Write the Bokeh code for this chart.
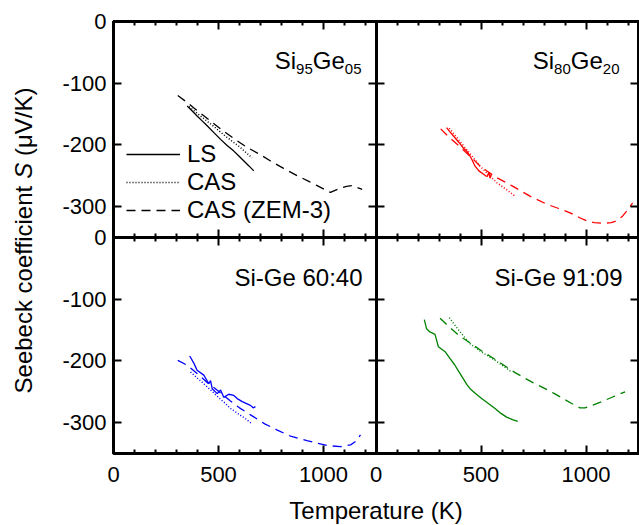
import math
from bokeh.plotting import figure
from bokeh.layouts import row
from bokeh.models import Range1d, LinearAxis, FixedTicker, Label, Legend, LegendItem
from bokeh.embed import file_html
from bokeh.resources import INLINE

FONT = "Liberation Sans"

# ---------------- data (Temperature K, Seebeck uV/K) ----------------
# Si95Ge05 (black)
si95_ls_T = [351, 375, 398, 422, 446, 478, 510, 541, 573, 597, 621, 645, 668]
si95_ls_S = [-137, -145, -153, -161, -169, -180, -191, -201, -210, -218, -226, -234, -242]
si95_cas_T = [360, 410, 470, 530, 600, 660]
si95_cas_S = [-138, -152, -168, -185, -203, -221]
si95_zem_T = [306, 350, 390, 450, 510, 570, 636, 700, 748, 810, 875, 930, 970, 1033, 1081, 1110, 1137, 1184]
si95_zem_S = [-120, -131, -142, -158, -174, -189, -204, -216, -226, -238, -250, -259, -266, -277, -270, -267, -266, -272]

# Si80Ge20 (red)
si80_ls_T = [336, 350, 370, 395, 416, 432, 448, 460, 471, 490, 511, 522, 530, 538, 543, 550]
si80_ls_S = [-172, -178, -186, -196, -205, -210, -218, -226, -234, -242, -247, -250, -251, -244, -254, -247]
si80_cas_T = [349, 380, 416, 455, 495, 535, 575, 620, 662]
si80_cas_S = [-173, -186, -201, -217, -234, -248, -261, -272, -283]
si80_zem_T = [308, 350, 400, 450, 495, 535, 575, 646, 733, 813, 870, 924, 970, 1003, 1040, 1082, 1120, 1146, 1175, 1194, 1222]
si80_zem_S = [-174, -188, -203, -219, -234, -244, -253, -266, -283, -296, -303, -310, -318, -323, -326, -327, -326, -323, -315, -307, -294]

# Si-Ge 60:40 (blue)
si60_ls_T = [363, 383, 398, 430, 454, 462, 470, 494, 510, 525, 549, 573, 589, 613, 652, 665, 676]
si60_ls_S = [-192, -204, -215, -223, -237, -232, -245, -253, -247, -259, -254, -256, -261, -266, -272, -276, -274]
si60_cas_T = [367, 400, 430, 462, 500, 530, 557, 600, 630, 660]
si60_cas_S = [-218, -228, -237, -247, -259, -268, -277, -287, -294, -302]
si60_zem_T = [306, 351, 400, 450, 500, 557, 600, 660, 720, 780, 843, 921, 1017, 1081, 1129, 1155, 1176]
si60_zem_S = [-199, -207, -221, -236, -249, -265, -276, -289, -302, -312, -322, -329, -337, -339, -336, -330, -320]

# Si-Ge 91:09 (green)
si91_ls_T = [230, 241, 257, 281, 297, 313, 329, 352, 376, 396, 416, 432, 448, 475, 503, 535, 567, 595, 622, 650, 675]
si91_ls_S = [-133, -148, -153, -157, -177, -181, -185, -196, -207, -218, -229, -238, -245, -253, -261, -269, -277, -285, -291, -295, -298]
si91_cas_T = [349, 380, 408, 448, 500, 567, 610, 646]
si91_cas_S = [-130, -144, -156, -172, -185, -199, -209, -218]
si91_zem_T = [305, 350, 392, 440, 500, 551, 600, 662, 741, 800, 850, 932, 971, 995, 1030, 1075, 1130, 1186]
si91_zem_S = [-131, -145, -158, -169, -183, -194, -205, -219, -234, -244, -253, -269, -276, -276, -272, -266, -258, -250]

# axes
T_MAX = 1250
S_MIN = -350
X_TICKS = [0, 500, 1000]
X_MINOR = [100, 200, 300, 400, 600, 700, 800, 900, 1100, 1200]
Y_TICKS = [0, -100, -200, -300]
LEGEND_LABELS = ["LS", "CAS", "CAS (ZEM-3)"]

# ---------------- layout constants ----------------
TITLE_W = 45
TOTAL_H = 525
FW, FH = 525, 432
BORDER_TOP = 21
PAGE_LEFT = 113.0
PAGE_TOP = float(BORDER_TOP)

p = figure(frame_width=FW, frame_height=FH, min_border_left=int(PAGE_LEFT) - TITLE_W,
           min_border_right=1, min_border_top=BORDER_TOP,
           min_border_bottom=TOTAL_H - BORDER_TOP - FH,
           x_range=Range1d(0, 2 * T_MAX), y_range=Range1d(2 * S_MIN, 0),
           x_axis_location=None, y_axis_location=None,
           output_backend="svg", toolbar_location=None)
p.frame_align = False
p.extra_x_ranges = {"right": Range1d(-T_MAX, T_MAX)}
p.extra_y_ranges = {"bottom": Range1d(S_MIN, -S_MIN)}
p.xgrid.visible = False
p.ygrid.visible = False
p.outline_line_color = "black"
p.outline_line_width = 3
p.background_fill_color = "white"
p.border_fill_color = "white"

xt_major = X_TICKS + [t + T_MAX for t in X_TICKS]
xt_minor = X_MINOR + [t + T_MAX for t in X_MINOR] + [T_MAX]
yt_major = Y_TICKS + [t + S_MIN for t in Y_TICKS]
x_over = {}
for t in X_TICKS:
    x_over[t] = str(t)
    x_over[t + T_MAX] = str(t)
y_over = {}
for t in Y_TICKS:
    y_over[t] = str(t)
    y_over[t + S_MIN] = str(t)


def style_axis(ax, tin, tout, labels):
    ax.axis_line_width = 3
    ax.axis_line_color = "black"
    ax.major_tick_in = tin
    ax.major_tick_out = tout
    ax.minor_tick_in = tin // 2
    ax.minor_tick_out = tout // 2
    ax.major_tick_line_width = 2
    ax.minor_tick_line_width = 2
    ax.major_tick_line_color = "black"
    ax.minor_tick_line_color = "black"
    if labels:
        ax.major_label_text_font = FONT
        ax.major_label_text_font_size = "22px"
        ax.major_label_text_color = "black"
    else:
        ax.major_label_text_color = None


bx = LinearAxis(ticker=FixedTicker(ticks=xt_major, minor_ticks=xt_minor), axis_label="Temperature (K)")
style_axis(bx, 8, 0, True)
bx.major_label_overrides = x_over
bx.major_label_standoff = 13
bx.axis_label_text_font = FONT
bx.axis_label_text_font_size = "24px"
bx.axis_label_text_font_style = "normal"
bx.axis_label_text_color = "black"
bx.axis_label_standoff = 12
p.add_layout(bx, "below")

ax_top = LinearAxis(ticker=FixedTicker(ticks=xt_major, minor_ticks=xt_minor))
style_axis(ax_top, 8, 0, False)
p.add_layout(ax_top, "above")

ly = LinearAxis(ticker=FixedTicker(ticks=yt_major, minor_ticks=[]))
style_axis(ly, 8, 0, True)
ly.major_label_overrides = y_over
ly.major_label_standoff = 7
p.add_layout(ly, "left")

ry = LinearAxis(ticker=FixedTicker(ticks=yt_major, minor_ticks=[]))
style_axis(ry, 8, 0, False)
p.add_layout(ry, "right")

# internal dividers (axes fixed inside the frame)
hdiv = LinearAxis(ticker=FixedTicker(ticks=xt_major, minor_ticks=xt_minor), fixed_location=S_MIN)
style_axis(hdiv, 8, 8, False)
p.add_layout(hdiv, "below")
vdiv = LinearAxis(ticker=FixedTicker(ticks=yt_major, minor_ticks=[]), fixed_location=T_MAX)
style_axis(vdiv, 8, 8, False)
p.add_layout(vdiv, "left")

# ---------------- lines ----------------
SOLID, DOT, DASH = "solid", "1 2", "9 6"


def draw(T, S, color, dash, xr, yr, w=1.3):
    return p.line(T, S, line_color=color, line_dash=dash, line_width=w,
                  x_range_name=xr, y_range_name=yr)


r_ls = draw(si95_ls_T, si95_ls_S, "black", SOLID, "default", "default")
r_cas = draw(si95_cas_T, si95_cas_S, "black", DOT, "default", "default", 1.5)
r_zem = draw(si95_zem_T, si95_zem_S, "black", DASH, "default", "default")

draw(si80_ls_T, si80_ls_S, "#ff0000", SOLID, "right", "default")
draw(si80_cas_T, si80_cas_S, "#ff0000", DOT, "right", "default", 1.5)
draw(si80_zem_T, si80_zem_S, "#ff0000", DASH, "right", "default")

draw(si60_ls_T, si60_ls_S, "#0000ff", SOLID, "default", "bottom")
draw(si60_cas_T, si60_cas_S, "#0000ff", DOT, "default", "bottom", 1.5)
draw(si60_zem_T, si60_zem_S, "#0000ff", DASH, "default", "bottom")

draw(si91_ls_T, si91_ls_S, "#008000", SOLID, "right", "bottom")
draw(si91_cas_T, si91_cas_S, "#008000", DOT, "right", "bottom", 1.5)
draw(si91_zem_T, si91_zem_S, "#008000", DASH, "right", "bottom")

legend = Legend(items=[LegendItem(label=LEGEND_LABELS[0], renderers=[r_ls]),
                       LegendItem(label=LEGEND_LABELS[1], renderers=[r_cas]),
                       LegendItem(label=LEGEND_LABELS[2], renderers=[r_zem])],
                location=(13, 229))
legend.glyph_width = 54
legend.glyph_height = 28
legend.label_height = 28
legend.label_standoff = 7
legend.spacing = 0
legend.padding = 0
legend.margin = 0
legend.border_line_color = None
legend.background_fill_alpha = 0
legend.label_text_font = FONT
legend.label_text_font_size = "24px"
legend.label_text_color = "black"
p.add_layout(legend)

# ---------------- texts ----------------
SX = FW / (2 * T_MAX)
SY = FH / (-2 * S_MIN)


def dx(px):
    return (px - PAGE_LEFT) / SX


def dy(py):
    return -(py - PAGE_TOP) / SY


W = {"S": 667, "i": 222, "G": 778, "e": 556, "-": 333, " ": 278, ":": 278,
     "b": 556, "c": 500, "k": 500, "o": 556, "f": 278, "n": 556, "t": 278,
     "(": 333, ")": 333, "μ": 576, "V": 667, "/": 278, "K": 667}


def tw(s, size):
    return sum(W.get(ch, 556) for ch in s) * size / 1000.0


def rich(pieces, right_px, base_px):
    total = sum(tw(t, s) for t, s, _ in pieces)
    x = right_px - total
    for t, s, off in pieces:
        p.add_layout(Label(x=dx(x), y=dy(base_px + off), text=t, text_font=FONT,
                           text_font_size=f"{s}px", text_align="left",
                           text_baseline="alphabetic", text_color="black"))
        x += tw(t, s)


rich([("Si", 24, 0), ("95", 15, 8), ("Ge", 24, 0), ("05", 15, 8)], 361, 60)
rich([("Si", 24, 0), ("80", 15, 8), ("Ge", 24, 0), ("20", 15, 8)], 619, 60)
for txt, rx in (("Si-Ge 60:40", 362), ("Si-Ge 91:09", 622)):
    p.add_layout(Label(x=dx(rx), y=dy(277), text=txt, text_font=FONT, text_font_size="24px",
                       text_align="right", text_baseline="alphabetic", text_color="black"))

# ---------------- y-axis title (separate narrow canvas, italic S) ----------------
tfig = figure(width=TITLE_W, height=TOTAL_H, x_range=Range1d(0, TITLE_W),
              y_range=Range1d(TOTAL_H, 0), min_border=0,
              x_axis_location=None, y_axis_location=None,
              output_backend="svg", toolbar_location=None)
tfig.frame_align = False
tfig.xgrid.visible = False
tfig.ygrid.visible = False
tfig.outline_line_color = None
tfig.background_fill_color = "white"
tfig.border_fill_color = "white"

yt_pieces = [("Seebeck coefficient", "normal"), ("S", "italic"), ("(μV/K)", "normal")]
sp = tw(" ", 24)
total = sum(tw(t, 24) for t, _ in yt_pieces) + 2 * sp
ypos = 240 + total / 2
for t, st in yt_pieces:
    tfig.add_layout(Label(x=22.5, y=ypos, text=t, text_font=FONT, text_font_size="24px",
                          text_font_style=st, angle=math.pi / 2, text_align="left",
                          text_baseline="middle", text_color="black"))
    ypos -= tw(t, 24) + sp

layout = row(tfig, p)
open("out.html", "w").write(file_html(layout, INLINE))
